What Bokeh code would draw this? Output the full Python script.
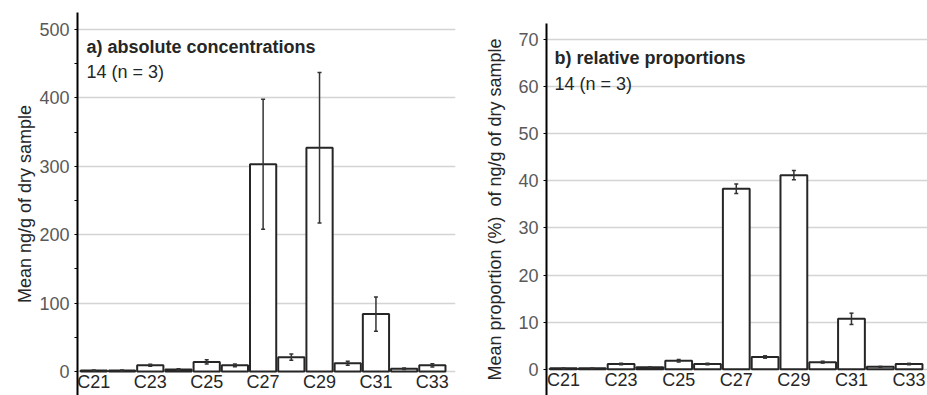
from bokeh.plotting import figure
from bokeh.models import (ColumnDataSource, FixedTicker, LinearAxis, Whisker, TeeHead,
                          Label, Range1d, Spacer)
from bokeh.core.properties import value
from bokeh.layouts import row, column
from bokeh.embed import file_html
from bokeh.resources import INLINE

# ---- data ----
categories = ["C21", "C22", "C23", "C24", "C25", "C26", "C27",
              "C28", "C29", "C30", "C31", "C32", "C33"]
shown_labels = ["C21", "C23", "C25", "C27", "C29", "C31", "C33"]

abs_mean = [1.5, 1.5, 9, 3, 14, 9, 303, 21, 327, 12, 84, 4, 9]
abs_err = [0.5, 0.8, 1.5, 1, 3, 2, 95, 4.5, 110, 3, 25, 1, 2.5]

rel_mean = [0.2, 0.2, 1.1, 0.4, 1.8, 1.1, 38.3, 2.6, 41.2, 1.5, 10.7, 0.5, 1.1]
rel_err = [0.03, 0.03, 0.15, 0.05, 0.25, 0.15, 1.0, 0.25, 1.0, 0.2, 1.2, 0.1, 0.15]

abs_ticks = [0, 100, 200, 300, 400, 500]
abs_minor = [50, 150, 250, 350, 450]
rel_ticks = [0, 10, 20, 30, 40, 50, 60, 70]

FONT = "Liberation Sans"
DARK = "#262626"
GRAY = "#595959"
GRID = "#d4d4d4"


def make_panel(means, errs, yticks, yminor, y_range, x_range, ylabel, title, subtitle,
               title_pos, sub_pos, frame_w, frame_h, border_left, border_right,
               border_top, label_standoff):
    idx = list(range(len(categories)))
    src = ColumnDataSource(dict(
        x=idx, cat=categories, top=means,
        upper=[m + e for m, e in zip(means, errs)],
        lower=[m - e for m, e in zip(means, errs)],
    ))
    lab_src = ColumnDataSource(dict(
        x=[categories.index(c) for c in shown_labels],
        y=[0] * len(shown_labels),
        text=shown_labels,
    ))
    p = figure(frame_width=frame_w, frame_height=frame_h,
               output_backend="svg", toolbar_location=None,
               x_range=Range1d(*x_range), y_range=Range1d(*y_range),
               x_axis_location=None, y_axis_location=None,
               min_border_left=border_left, min_border_right=border_right,
               min_border_top=border_top, min_border_bottom=0)
    p.outline_line_color = None
    p.background_fill_color = "white"

    yaxis = LinearAxis(ticker=FixedTicker(ticks=yticks, minor_ticks=yminor))
    yaxis.axis_line_color = "black"
    yaxis.axis_line_width = 2
    yaxis.major_tick_in = 0
    yaxis.major_tick_out = 3
    yaxis.minor_tick_in = 0
    yaxis.minor_tick_out = 3 if yminor else 0
    yaxis.major_tick_line_color = "black"
    yaxis.minor_tick_line_color = "black" if yminor else None
    yaxis.major_label_standoff = 5
    yaxis.major_label_text_font = FONT
    yaxis.major_label_text_font_size = "18px"
    yaxis.major_label_text_color = GRAY
    yaxis.axis_label = ylabel
    yaxis.axis_label_text_font = FONT
    yaxis.axis_label_text_font_size = "18px"
    yaxis.axis_label_text_font_style = "normal"
    yaxis.axis_label_text_color = DARK
    yaxis.axis_label_standoff = label_standoff
    p.add_layout(yaxis, "left")

    p.ygrid.ticker = FixedTicker(ticks=yticks)
    p.ygrid.grid_line_color = GRID
    p.ygrid.grid_line_width = 1.5
    p.xgrid.grid_line_color = None

    p.vbar(x="x", top="top", bottom=0, width=0.93, source=src,
           fill_color="white", line_color=DARK, line_width=2)

    w = Whisker(base="x", upper="upper", lower="lower", source=src, level="overlay",
                line_color="#333333", line_width=1.5,
                upper_head=TeeHead(size=4, line_color="#333333", line_width=1.5),
                lower_head=TeeHead(size=4, line_color="#333333", line_width=1.5))
    p.add_layout(w)

    # category labels under the zero line
    p.text(x="x", y="y", text="text", source=lab_src, text_align="center",
           text_baseline="top", y_offset=1, text_font=value(FONT),
           text_font_size="18px", text_color=DARK)

    p.add_layout(Label(x=title_pos[0], y=title_pos[1], text=title, text_font=FONT,
                       text_font_size="18px", text_font_style="bold", text_color=DARK,
                       text_baseline="alphabetic"))
    p.add_layout(Label(x=sub_pos[0], y=sub_pos[1], text=subtitle, text_font=FONT,
                       text_font_size="18px", text_color=DARK,
                       text_baseline="alphabetic"))
    return p


p1 = make_panel(abs_mean, abs_err, abs_ticks, abs_minor, (-35.1, 524.85), (-0.58, 12.82),
                "Mean ng/g of dry sample", "a) absolute concentrations", "14 (n = 3)",
                (-0.26, 474), (-0.26, 438), 378, 383, 77, 5, 12, 1)
p2 = make_panel(rel_mean, rel_err, rel_ticks, [], (-5.58, 73.4), (-0.59, 12.64),
                "Mean proportion (%)\u00a0 of ng/g of dry sample", "b) relative proportions",
                "14 (n = 3)", (-0.31, 66.1), (-0.31, 60.6), 381, 372, 86, 0, 23, 10)

layout = row(column(p1), column(p2))
open("out.html", "w").write(file_html(layout, INLINE))
